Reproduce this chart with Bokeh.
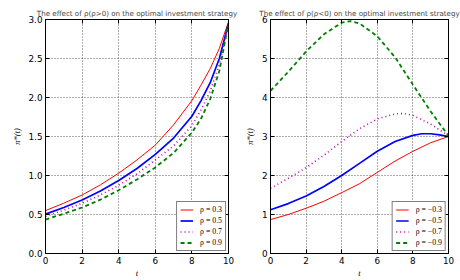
from bokeh.plotting import figure
from bokeh.models import LinearAxis, Range1d, Legend, LegendItem, FixedTicker
from bokeh.layouts import row
from bokeh.embed import file_html
from bokeh.resources import INLINE

# ---------------- data ----------------
t_left = [0, 1, 2, 3, 4, 5, 6, 7, 8, 8.5, 9, 9.5, 10]
left_r03 = [0.55, 0.645, 0.75, 0.88, 1.03, 1.20, 1.39, 1.65, 1.96, 2.16, 2.37, 2.63, 2.97]
left_r05 = [0.505, 0.59, 0.686, 0.80, 0.937, 1.09, 1.27, 1.48, 1.76, 1.96, 2.19, 2.50, 2.95]
left_r07 = [0.477, 0.555, 0.644, 0.75, 0.874, 1.02, 1.20, 1.38, 1.64, 1.84, 2.08, 2.42, 2.95]
left_r09 = [0.435, 0.51, 0.59, 0.69, 0.811, 0.95, 1.104, 1.29, 1.55, 1.73, 1.98, 2.34, 2.95]

t_rm03 = [0, 1, 2, 3, 4, 5, 6, 7, 8, 9, 10]
right_rm03 = [0.87, 1.0, 1.16, 1.34, 1.56, 1.79, 2.08, 2.37, 2.62, 2.84, 3.0]
t_rm05 = [0, 1, 2, 3, 4, 5, 6, 7, 8, 8.5, 9, 9.5, 10]
right_rm05 = [1.12, 1.28, 1.475, 1.72, 2.0, 2.31, 2.62, 2.87, 3.03, 3.07, 3.07, 3.04, 3.0]
t_rm07 = [0, 1, 2, 3, 4, 5, 6, 7, 7.5, 8, 9, 10]
right_rm07 = [1.67, 1.93, 2.2, 2.52, 2.87, 3.2, 3.45, 3.58, 3.59, 3.54, 3.32, 3.02]
t_rm09 = [0, 1, 2, 3, 4, 4.5, 5, 6, 7, 8, 9, 10]
right_rm09 = [4.17, 4.66, 5.18, 5.62, 5.92, 5.96, 5.9, 5.57, 5.03, 4.33, 3.64, 3.02]

x_ticks = [0, 2, 4, 6, 8, 10]
x_tick_labels = ["0", "2", "4", "6", "8", "10"]
left_y_ticks = [0.0, 0.5, 1.0, 1.5, 2.0, 2.5, 3.0]
left_y_tick_labels = ["0.0", "0.5", "1.0", "1.5", "2.0", "2.5", "3.0"]
right_y_ticks = [0, 1, 2, 3, 4, 5, 6]
right_y_tick_labels = ["0", "1", "2", "3", "4", "5", "6"]

left_labels = ["ρ = 0.3", "ρ = 0.5", "ρ = 0.7", "ρ = 0.9"]
right_labels = ["ρ = −0.3", "ρ = −0.5", "ρ = −0.7", "ρ = −0.9"]
left_title = "The effect of ρ(ρ>0) on the optimal investment strategy"
right_title = "The effect of ρ(ρ<0) on the optimal investment strategy"

styles = [
    dict(line_color="#ff0000", line_width=1),
    dict(line_color="#0000ff", line_width=1.7),
    dict(line_color="#bf00bf", line_width=1.6, line_dash="1 3"),
    dict(line_color="#008000", line_width=1.8, line_dash="4 3"),
]

TICK_FONT = "DejaVu Sans"


def style_axis(ax, ticks, labels, show_labels=True):
    ax.ticker = FixedTicker(ticks=ticks)
    ax.axis_line_color = "black"
    ax.major_tick_line_color = "black"
    ax.major_tick_in = 4
    ax.major_tick_out = 0
    ax.minor_tick_in = 0
    ax.minor_tick_out = 0
    ax.major_label_text_font = TICK_FONT
    ax.major_label_text_color = "black"
    if show_labels:
        ax.major_label_overrides = {tk: lb for tk, lb in zip(ticks, labels)}
        ax.major_label_text_font_size = "8.8px"
        ax.major_label_standoff = 3
    else:
        ax.major_label_overrides = {tk: "" for tk in ticks}
        ax.major_label_text_font_size = "1px"
        ax.major_label_standoff = 0


def make(width, bl, br, ymax, yticks, ylabels, title, xs_list, ys_list, labels):
    p = figure(width=width, height=280,
               x_range=Range1d(0, 10), y_range=Range1d(0, ymax),
               output_backend="svg", toolbar_location=None,
               min_border_left=bl, min_border_right=br,
               min_border_top=19, min_border_bottom=22)
    p.background_fill_color = "white"
    p.border_fill_color = "white"
    p.outline_line_color = "black"
    p.title.text = title
    p.title.text_font = "DejaVu Sans"
    p.title.text_font_size = "7.1px"
    p.title.text_font_style = "normal"
    p.title.align = "center"
    p.title.standoff = 3

    style_axis(p.xaxis[0], x_ticks, x_tick_labels)
    style_axis(p.yaxis[0], yticks, ylabels)
    p.xaxis.axis_label = "t"
    p.yaxis.axis_label = "π*(t)"
    for ax in (p.xaxis[0], p.yaxis[0]):
        ax.axis_label_text_font = "Liberation Serif"
        ax.axis_label_text_font_style = "italic"
        ax.axis_label_text_font_size = "8.5px"
        ax.axis_label_text_color = "black"
    p.xaxis.axis_label_standoff = 1
    p.yaxis.axis_label_standoff = 4

    top = LinearAxis()
    style_axis(top, x_ticks, x_tick_labels, show_labels=False)
    p.add_layout(top, "above")
    right = LinearAxis()
    style_axis(right, yticks, ylabels, show_labels=False)
    p.add_layout(right, "right")

    p.xgrid.ticker = FixedTicker(ticks=x_ticks)
    p.ygrid.ticker = FixedTicker(ticks=yticks)
    for g in (p.xgrid[0], p.ygrid[0]):
        g.grid_line_color = "black"
        g.grid_line_dash = "1 2"
        g.grid_line_width = 0.8
        g.grid_line_alpha = 0.8

    items = []
    for xs, ys, lab, st in zip(xs_list, ys_list, labels, styles):
        r = p.line(xs, ys, **st)
        items.append(LegendItem(label=lab, renderers=[r]))

    leg = Legend(items=items, location="bottom_right")
    leg.margin = 2
    leg.padding = 3
    leg.spacing = 2
    leg.glyph_width = 13
    leg.glyph_height = 9
    leg.label_height = 9
    leg.label_standoff = 7
    leg.label_text_font = "Liberation Serif"
    leg.label_text_font_size = "7.8px"
    leg.label_text_color = "black"
    leg.border_line_color = "black"
    leg.border_line_width = 1
    leg.background_fill_color = "white"
    leg.background_fill_alpha = 1
    p.add_layout(leg)
    return p


p1 = make(241, 45, 13, 3.0, left_y_ticks, left_y_tick_labels, left_title,
          [t_left] * 4, [left_r03, left_r05, left_r07, left_r09], left_labels)
p2 = make(219, 24, 12, 6.0, right_y_ticks, right_y_tick_labels, right_title,
          [t_rm03, t_rm05, t_rm07, t_rm09],
          [right_rm03, right_rm05, right_rm07, right_rm09], right_labels)

layout = row(p1, p2)
open("out.html", "w").write(file_html(layout, INLINE))
